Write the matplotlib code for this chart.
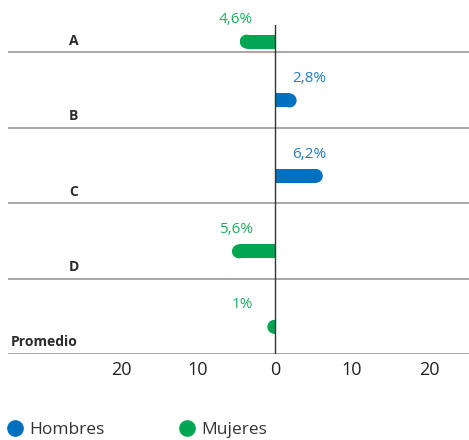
import numpy as np
import matplotlib
matplotlib.use("Agg")
import matplotlib.pyplot as plt
from matplotlib.lines import Line2D
from matplotlib.patches import Rectangle, Ellipse

plt.rcParams['font.family'] = ['Open Sans', 'DejaVu Sans']

# data
categorias = ['A', 'B', 'C', 'D', 'Promedio']
valores = [4.6, 2.8, 6.2, 5.6, 1.0]
grupo = ['Mujeres', 'Hombres', 'Hombres', 'Mujeres', 'Mujeres']
etiquetas = ['4,6%', '2,8%', '6,2%', '5,6%', '1%']
ticks = [-20, -10, 0, 10, 20]
tick_labels = ['20', '10', '0', '10', '20']

colores = {'Hombres': '#0070C0', 'Mujeres': '#00A651'}
col_txt = {'Hombres': '#1F7DC4', 'Mujeres': '#1DAF5E'}

W, H = 469, 440
fig = plt.figure(figsize=(W / 100, H / 100), dpi=100)
ax = fig.add_axes([8 / W, 1 - 354 / H, 1 - 8 / W, (354 - 25) / H])

xmin, xmax = -34.7, 25.2
ytop = 0.64
ax.set_xlim(xmin, xmax)
ax.set_ylim(len(categorias), ytop)

px_unit = (W - 8) / (xmax - xmin)
bar_px = 14
r = bar_px / 2 / px_unit
alto = bar_px / 75.5
off = 0.36

for i, (cat, v, g, lab) in enumerate(zip(categorias, valores, grupo, etiquetas)):
    fila = i + 1
    yb = max(fila - off, ytop + 0.22)
    s = 1 if g == 'Hombres' else -1
    # square part from the axis, rounded cap on the outer end
    ax.barh(yb, s * max(v - r, 0), height=alto, color=colores[g],
            linewidth=0, zorder=2)
    cap = Ellipse((s * (v - r), yb), 2 * r, alto, color=colores[g],
                  linewidth=0, zorder=2)
    ax.add_patch(cap)
    clip = Rectangle((min(0, s * v), yb - alto), abs(v), 2 * alto,
                     transform=ax.transData)
    cap.set_clip_path(clip)
    if s > 0:
        ax.text(2.2, yb - 0.29, lab, ha='left', va='center', fontsize=11,
                color=col_txt[g], clip_on=False)
    else:
        ax.text(-2.9, yb - 0.29, lab, ha='right', va='center', fontsize=11,
                color=col_txt[g], clip_on=False)
    ax.axhline(fila, color='#9a9a9a', lw=1.2, zorder=1)
    if cat == 'Promedio':
        ax.text(xmin + 0.3, fila - 0.06, cat, ha='left', va='bottom',
                fontsize=10, fontweight='bold', color='#2b2b2b')
    else:
        ax.text(-26.2, fila - 0.06, cat, ha='center', va='bottom',
                fontsize=10, fontweight='bold', color='#2b2b2b')

ax.axvline(0, color='#333333', lw=1.0, zorder=3)

ax.set_xticks(ticks)
ax.set_xticklabels(tick_labels, fontsize=13, color='#222222')
ax.tick_params(axis='x', length=0, pad=5)
ax.set_yticks([])
for sp in ax.spines.values():
    sp.set_visible(False)

handles = [Line2D([], [], marker='o', ls='', color=colores[k], markersize=11)
           for k in ['Hombres', 'Mujeres']]
fig.legend(handles, ['Hombres', 'Mujeres'], loc='lower left',
           bbox_to_anchor=(-0.02, -0.032), ncol=2, frameon=False, fontsize=12.5,
           handletextpad=0.3, columnspacing=4.3, handlelength=1.0,
           labelcolor='#333333')

fig.savefig('out.png', dpi=100)
